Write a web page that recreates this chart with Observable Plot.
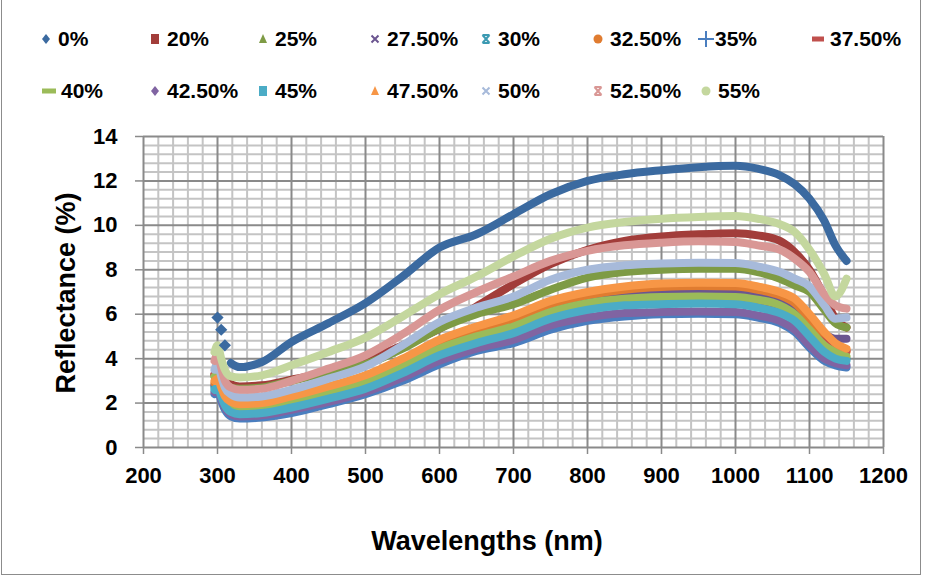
<!DOCTYPE html>
<html>
<head>
<meta charset="utf-8">
<script src="https://cdn.jsdelivr.net/npm/d3@7"></script>
<script src="https://cdn.jsdelivr.net/npm/@observablehq/plot@0.6"></script>
<style>
  html, body { margin: 0; padding: 0; background: #fff; }
  #wrap { position: relative; width: 925px; height: 578px; overflow: hidden; font-family: "Liberation Sans", Arial, sans-serif; }
  #frame { position: absolute; left: 1px; top: -2px; width: 920px; height: 577px; border: 1.5px solid #8c8c8c; box-sizing: border-box; pointer-events: none; }
  #legend { position: absolute; left: 0; top: 0; width: 925px; height: 118px; }
  .item { position: absolute; font-weight: bold; font-size: 21px; color: #000; white-space: nowrap; line-height: 1; }
  .mk { position: absolute; }
  #chart { position: absolute; left: 0; top: 118px; }
  .xtitle, .ytitle { position: absolute; font-weight: bold; font-size: 27px; color: #000; white-space: nowrap; }
</style>
</head>
<body>
<div id="wrap">
  <div id="legend"></div>
  <div id="chart"></div>
  <div id="frame"></div>
</div>
<script>
// ---------- data ----------
const wavelengths = [296, 300, 305, 310, 318, 330, 360, 400, 450, 500, 550, 600, 650, 700, 750, 800, 850, 900, 950, 1000, 1030, 1060, 1080, 1100, 1120, 1135, 1150];

const r0   = [null, 5.85, 5.3, 4.6, 3.8, 3.62, 3.85, 4.75, 5.6, 6.5, 7.7, 9.0, 9.6, 10.5, 11.4, 12.0, 12.3, 12.48, 12.62, 12.68, 12.55, 12.25, 11.85, 11.2, 10.2, 9.1, 8.4];
const r20  = [3.3, 3.6, 3.3, 3.0, 2.85, 2.75, 2.8, 3.05, 3.4, 3.9, 4.6, 5.35, 6.35, 7.35, 8.25, 8.9, 9.3, 9.5, 9.6, 9.65, 9.55, 9.3, 8.8, 8.0, 6.8, 5.8, 5.4];
const r25  = [3.2, 3.2, 3.0, 2.8, 2.7, 2.65, 2.7, 3.0, 3.4, 3.75, 4.45, 5.35, 6.0, 6.45, 7.1, 7.65, 7.9, 8.0, 8.05, 8.05, 7.9, 7.6, 7.3, 7.0, 6.2, 5.6, 5.4];
const r275 = [2.8, 2.9, 2.5, 2.1, 1.85, 1.75, 1.8, 2.1, 2.55, 3.0, 3.75, 4.55, 5.15, 5.6, 6.25, 6.7, 6.9, 7.0, 7.02, 7.0, 6.85, 6.6, 6.3, 5.6, 5.1, 4.9, 4.9];
const r30  = [2.7, 2.8, 2.4, 2.0, 1.7, 1.6, 1.65, 1.9, 2.35, 2.8, 3.55, 4.35, 4.95, 5.4, 6.05, 6.45, 6.65, 6.7, 6.72, 6.7, 6.55, 6.3, 5.9, 5.2, 4.5, 4.1, 4.0];
const r325 = [2.9, 3.0, 2.6, 2.2, 1.95, 1.85, 1.9, 2.2, 2.65, 3.1, 3.85, 4.7, 5.3, 5.8, 6.45, 6.85, 7.1, 7.22, 7.27, 7.25, 7.1, 6.85, 6.5, 5.8, 5.0, 4.5, 4.3];
const r35  = [2.4, 2.6, 2.1, 1.7, 1.4, 1.3, 1.35, 1.55, 1.95, 2.4, 3.0, 3.75, 4.35, 4.7, 5.3, 5.7, 5.9, 6.0, 6.02, 6.0, 5.85, 5.6, 5.2, 4.5, 3.9, 3.7, 3.6];
const r375 = [3.3, 3.4, 2.8, 2.2, 1.8, 1.65, 1.7, 2.0, 2.4, 2.85, 3.6, 4.4, 4.95, 5.4, 6.05, 6.45, 6.65, 6.72, 6.75, 6.72, 6.6, 6.35, 5.9, 5.2, 4.7, 4.45, 4.35];
const r40  = [3.2, 3.0, 2.6, 2.2, 1.8, 1.65, 1.7, 2.0, 2.45, 2.9, 3.65, 4.45, 5.0, 5.45, 6.1, 6.5, 6.7, 6.78, 6.8, 6.78, 6.65, 6.4, 6.0, 5.3, 4.6, 4.3, 4.1];
const r425 = [2.5, 2.6, 2.2, 1.8, 1.5, 1.4, 1.45, 1.7, 2.05, 2.5, 3.15, 3.9, 4.45, 4.85, 5.5, 5.85, 6.05, 6.1, 6.12, 6.1, 5.95, 5.7, 5.3, 4.6, 4.0, 3.8, 3.7];
const r45  = [2.6, 2.7, 2.3, 1.9, 1.6, 1.5, 1.55, 1.8, 2.2, 2.65, 3.35, 4.15, 4.7, 5.15, 5.8, 6.2, 6.4, 6.45, 6.48, 6.45, 6.3, 6.05, 5.7, 5.0, 4.3, 4.0, 3.9];
const r475 = [3.0, 3.1, 2.7, 2.3, 2.05, 1.95, 2.0, 2.3, 2.75, 3.25, 4.0, 4.85, 5.45, 5.95, 6.6, 7.0, 7.25, 7.38, 7.42, 7.4, 7.25, 7.0, 6.7, 6.0, 5.2, 4.7, 4.45];
const r50  = [3.5, 3.8, 3.2, 2.7, 2.4, 2.25, 2.3, 2.6, 3.1, 3.65, 4.6, 5.65, 6.3, 6.8, 7.55, 8.0, 8.2, 8.28, 8.32, 8.3, 8.15, 7.9, 7.6, 7.25, 6.4, 5.8, 5.85];
const r525 = [3.9, 4.2, 3.6, 3.0, 2.7, 2.6, 2.65, 3.0, 3.55, 4.15, 5.1, 6.2, 7.0, 7.7, 8.4, 8.85, 9.1, 9.22, 9.28, 9.25, 9.1, 8.9, 8.5, 7.9, 6.9, 6.4, 6.25];
const r55  = [4.3, 4.6, 4.0, 3.5, 3.2, 3.15, 3.25, 3.7, 4.3, 4.95, 5.9, 6.9, 7.7, 8.6, 9.4, 9.9, 10.15, 10.3, 10.38, 10.42, 10.3, 10.05, 9.7, 8.9, 7.8, 6.8, 7.6];

const seriesNames   = ["0%", "20%", "25%", "27.50%", "30%", "32.50%", "35%", "37.50%", "40%", "42.50%", "45%", "47.50%", "50%", "52.50%", "55%"];
const seriesValues  = [r0, r20, r25, r275, r30, r325, r35, r375, r40, r425, r45, r475, r50, r525, r55];
const seriesColors  = ["#3B6AA0", "#A23D3A", "#7E9B45", "#6B5590", "#3C9AB2", "#E07C30", "#4A7EBF", "#C0504D", "#9BBB59", "#8064A2", "#4BACC6", "#F79646", "#A7BADA", "#D99795", "#C4D79E"];
const seriesSymbols = ["diamond", "square", "triangle", "x", "asterisk", "circle", "plus", "dash", "widedash", "diamond", "square", "triangle", "x", "asterisk", "circle"];

const xTicks = [200, 300, 400, 500, 600, 700, 800, 900, 1000, 1100, 1200];
const yTicks = [0, 2, 4, 6, 8, 10, 12, 14];
const xLabel = "Wavelengths (nm)";
const yLabel = "Reflectance (%)";

// ---------- build table ----------
const rows = [];
seriesNames.forEach((name, i) => {
  seriesValues[i].forEach((v, j) => {
    if (v != null) rows.push({series: name, wl: wavelengths[j], r: v});
  });
});
// 0% UV spike is drawn as separate diamond markers, the rest as a dense band
const spike0 = rows.filter(d => d.series === "0%" && d.wl < 318);
const lineRows = rows.filter(d => !(d.series === "0%" && d.wl < 318));

const xMinor = d3.range(200, 1201, 20).filter(d => d % 100 !== 0);
const yMinor = d3.range(0, 71, 2).map(d => d / 5).filter(d => Math.abs(d / 2 - Math.round(d / 2)) > 1e-6);

const chart = Plot.plot({
  width: 925,
  height: 460,
  marginLeft: 143,
  marginRight: 42,
  marginTop: 18,
  marginBottom: 131,
  style: {fontFamily: "'Liberation Sans', Arial, sans-serif", fontSize: "22px", fontWeight: "bold", color: "#000", background: "transparent", overflow: "visible"},
  x: {domain: [200, 1200]},
  y: {domain: [0, 14]},
  color: {domain: seriesNames, range: seriesColors},
  symbol: {domain: ["d"], range: ["diamond2"]},
  marks: [
    Plot.gridX(xMinor, {stroke: "#c4c4c4", strokeOpacity: 1, strokeWidth: 2}),
    Plot.gridY(yMinor, {stroke: "#c4c4c4", strokeOpacity: 1, strokeWidth: 2}),
    Plot.gridX(xTicks, {stroke: "#8a8a8a", strokeOpacity: 1, strokeWidth: 2}),
    Plot.gridY(yTicks, {stroke: "#8a8a8a", strokeOpacity: 1, strokeWidth: 2}),
    Plot.axisY({ticks: yTicks, tickSize: 8, tickPadding: 18, stroke: "#8a8a8a", strokeWidth: 1.5, label: null, tickFormat: d => String(d)}),
    Plot.axisX({ticks: xTicks, tickSize: 7, tickPadding: 13, stroke: "#8a8a8a", strokeWidth: 1.5, label: null, tickFormat: d => String(d)}),
    Plot.line(lineRows, {x: "wl", y: "r", z: "series", stroke: "series", strokeWidth: 8, curve: "monotone-x", strokeLinejoin: "round"}),
    Plot.dot(spike0, {x: "wl", y: "r", symbol: "diamond2", fill: "series", stroke: null, r: 5.5})
  ]
});
document.getElementById("chart").appendChild(chart);

// axis titles
const wrap = document.getElementById("wrap");
const xt = document.createElement("div");
xt.className = "xtitle"; xt.textContent = xLabel;
xt.style.left = "487px"; xt.style.top = "541px"; xt.style.transform = "translate(-50%, -50%)";
wrap.appendChild(xt);
const yt = document.createElement("div");
yt.className = "ytitle"; yt.textContent = yLabel;
yt.style.left = "66px"; yt.style.top = "293px"; yt.style.transform = "translate(-50%, -50%) rotate(-90deg)";
wrap.appendChild(yt);

// ---------- legend ----------
const legend = document.getElementById("legend");
const colX = [46, 155, 263, 375, 486, 598, 706, 818];
const rowY = [39, 91];
function markerSvg(sym, color) {
  const s = 18, c = 9;
  let inner = "";
  switch (sym) {
    case "diamond": inner = `<polygon points="${c},${c-5} ${c+4},${c} ${c},${c+5} ${c-4},${c}" fill="${color}"/>`; break;
    case "square": inner = `<rect x="${c-4}" y="${c-5}" width="8" height="10" fill="${color}"/>`; break;
    case "triangle": inner = `<polygon points="${c},${c-5} ${c+4},${c+4} ${c-4},${c+4}" fill="${color}"/>`; break;
    case "x": inner = `<path d="M${c-3.5},${c-3.5}L${c+3.5},${c+3.5}M${c+3.5},${c-3.5}L${c-3.5},${c+3.5}" stroke="${color}" stroke-width="2"/>`; break;
    case "asterisk": inner = `<path d="M${c-3.5},${c-4}L${c+3.5},${c+4}M${c+3.5},${c-4}L${c-3.5},${c+4}M${c-3.5},${c-4}H${c+3.5}M${c-3.5},${c+4}H${c+3.5}" stroke="${color}" stroke-width="2"/>`; break;
    case "circle": inner = `<circle cx="${c}" cy="${c}" r="4.5" fill="${color}"/>`; break;
    case "plus": inner = `<path d="M${c-8},${c}H${c+8}M${c},${c-8}V${c+8}" stroke="${color}" stroke-width="2"/>`; break;
    case "dash": inner = `<rect x="${c-6}" y="${c-2.5}" width="12" height="5" fill="${color}"/>`; break;
    case "widedash": inner = `<rect x="${c-7}" y="${c-2.5}" width="14" height="5" fill="${color}"/>`; break;
  }
  return `<svg width="${s}" height="${s}" viewBox="0 0 ${s} ${s}" style="overflow:visible">${inner}</svg>`;
}
seriesNames.forEach((name, i) => {
  const row = i < 8 ? 0 : 1;
  const col = i < 8 ? i : i - 8;
  let mx = colX[col];
  if (seriesSymbols[i] === "widedash") mx = 49;
  const y = rowY[row];
  const mk = document.createElement("div");
  mk.className = "mk";
  mk.style.left = (mx - 9) + "px"; mk.style.top = (y - 9) + "px";
  mk.innerHTML = markerSvg(seriesSymbols[i], seriesColors[i]);
  legend.appendChild(mk);
  const t = document.createElement("div");
  t.className = "item";
  t.textContent = name;
  t.style.left = (mx + (seriesSymbols[i] === "plus" ? 9 : 12)) + "px";
  t.style.top = (y - 11) + "px";
  legend.appendChild(t);
});
</script>
</body>
</html>
